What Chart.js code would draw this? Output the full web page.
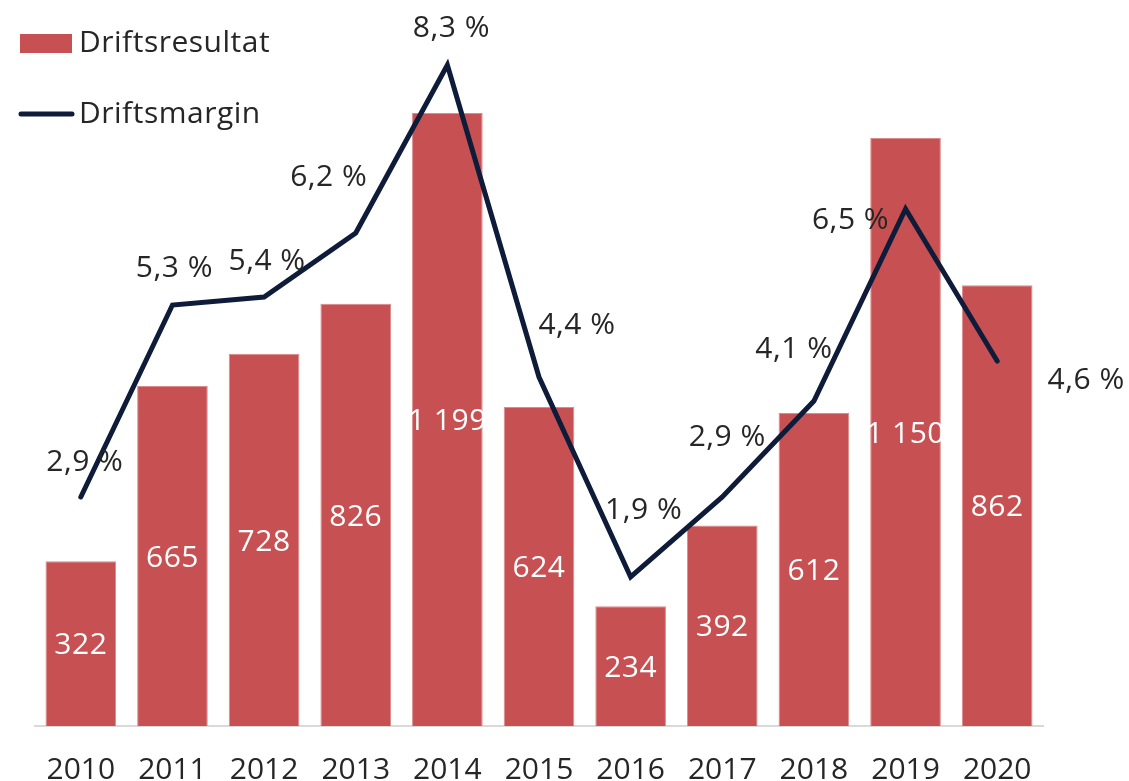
<!DOCTYPE html>
<html lang="no">
<head>
<meta charset="utf-8">
<title>Driftsresultat og driftsmargin</title>
<script src="https://cdn.jsdelivr.net/npm/chart.js@4.4.1/dist/chart.umd.min.js"></script>
<style>
  html, body { margin: 0; padding: 0; background: #ffffff; }
  #wrap { position: relative; width: 1129px; height: 781px; }
</style>
</head>
<body>
<div id="wrap"><canvas id="chart"></canvas></div>
<script>
// Data
const years = ["2010", "2011", "2012", "2013", "2014", "2015", "2016", "2017", "2018", "2019", "2020"];
const driftsresultat = [322, 665, 728, 826, 1199, 624, 234, 392, 612, 1150, 862];
const driftsmargin = [2.9, 5.3, 5.4, 6.2, 8.3, 4.4, 1.9, 2.9, 4.1, 6.5, 4.6];

// Label nudges for the margin labels (px, relative to the point)
const marginLabelNudge = [[4, -37], [2, -39], [3, -38], [-27, -58], [4, -39], [38, -54],
  [13, -69], [5, -62], [-20, -54], [-55, 9], [89, 17]];

const barColor = "#c75052";
const lineColor = "#0e1c3a";
const textColor = "#262626";
const fontFamily = "'Open Sans', 'DejaVu Sans', sans-serif";
const fontSize = 30;

function fmtThousands(v) {
  return String(v).replace(/\B(?=(\d{3})+(?!\d))/g, " ");
}
function fmtPct(v) {
  return v.toFixed(1).replace(".", ",") + " %";
}

// Draw text so the digit centre sits on y
function centerText(ctx, text, x, y) {
  ctx.textBaseline = "alphabetic";
  ctx.fillText(text, x, y + fontSize * 0.357);
}

const labelPlugin = {
  id: "valueLabels",
  afterDatasetsDraw(chart) {
    const ctx = chart.ctx;
    ctx.save();
    ctx.font = fontSize + "px " + fontFamily;
    ctx.letterSpacing = "0.5px";
    ctx.textAlign = "center";

    // bar values, white, in the middle of each bar
    const barMeta = chart.getDatasetMeta(0);
    ctx.fillStyle = "#ffffff";
    barMeta.data.forEach((bar, i) => {
      const mid = (bar.y + bar.base) / 2;
      centerText(ctx, fmtThousands(driftsresultat[i]), bar.x, mid);
    });

    // margin values around the line
    const lineMeta = chart.getDatasetMeta(1);
    ctx.fillStyle = textColor;
    lineMeta.data.forEach((pt, i) => {
      const n = marginLabelNudge[i];
      centerText(ctx, fmtPct(driftsmargin[i]), pt.x + n[0], pt.y + n[1]);
    });
    ctx.restore();
  }
};

const legendPlugin = {
  id: "cornerLegend",
  afterDraw(chart) {
    const ctx = chart.ctx;
    ctx.save();
    ctx.font = fontSize + "px " + fontFamily;
    ctx.letterSpacing = "0.5px";
    ctx.textAlign = "left";

    ctx.fillStyle = barColor;
    ctx.fillRect(20, 34, 52, 19);
    ctx.fillStyle = textColor;
    centerText(ctx, chart.data.datasets[0].label, 79, 41);

    ctx.strokeStyle = lineColor;
    ctx.lineWidth = 5;
    ctx.lineCap = "round";
    ctx.beginPath();
    ctx.moveTo(21, 114);
    ctx.lineTo(72, 114);
    ctx.stroke();
    centerText(ctx, chart.data.datasets[1].label, 79, 112);
    ctx.restore();
  }
};

new Chart(document.getElementById("chart"), {
  type: "bar",
  data: {
    labels: years,
    datasets: [
      {
        type: "bar",
        label: "Driftsresultat",
        data: driftsresultat,
        backgroundColor: barColor,
        borderColor: "#dc8b8c",
        borderWidth: 1,
        yAxisID: "y",
        barPercentage: 0.771,
        categoryPercentage: 1,
        order: 1
      },
      {
        type: "line",
        label: "Driftsmargin",
        data: driftsmargin,
        borderColor: lineColor,
        borderWidth: 5,
        borderCapStyle: "round",
        pointRadius: 0,
        tension: 0,
        fill: false,
        yAxisID: "y1",
        order: 0
      }
    ]
  },
  options: {
    responsive: true,
    maintainAspectRatio: false,
    animation: false,
    layout: {
      padding: { left: 35, right: 86, top: 5, bottom: 0 }
    },
    plugins: {
      legend: { display: false },
      tooltip: { enabled: false }
    },
    scales: {
      x: {
        grid: { display: false, drawTicks: false },
        border: { display: true, color: "#d9d9d9", width: 2 },
        ticks: {
          color: textColor,
          padding: 26,
          font: { family: fontFamily, size: fontSize }
        },
        afterFit(scale) { scale.height = 55; }
      },
      y: {
        display: false,
        min: 0,
        max: 1410
      },
      y1: {
        display: false,
        min: 0.0375,
        max: 9.05
      }
    }
  },
  plugins: [labelPlugin, legendPlugin]
});
</script>
</body>
</html>
